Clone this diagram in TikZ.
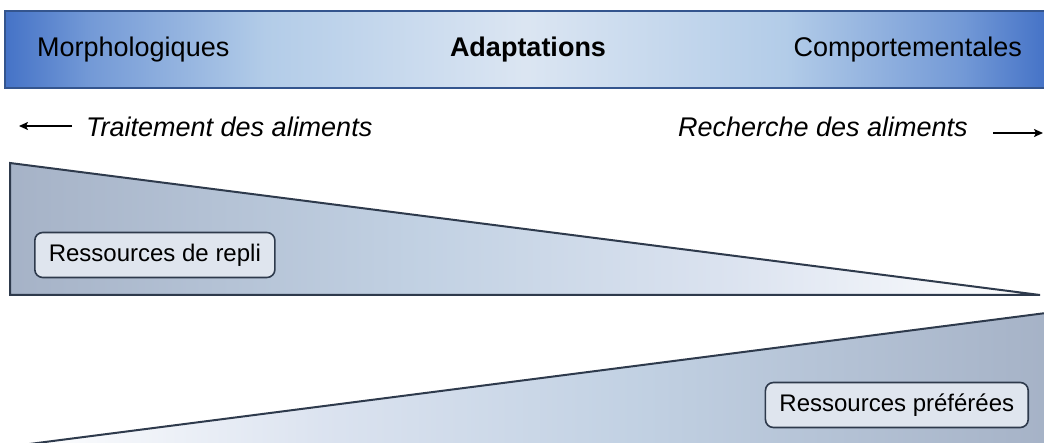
\documentclass[tikz,border=0pt]{standalone}
\usepackage{fontspec}
\setmainfont{Liberation Sans}
\usetikzlibrary{arrows.meta}
\definecolor{bannerline}{HTML}{34558E}
\definecolor{triline}{HTML}{2E3A4C}
\definecolor{boxfill}{HTML}{DFE5EE}
\pgfdeclarehorizontalshading{bannershade}{100bp}{
  rgb(0bp)=(0.27,0.45,0.78);
  rgb(25bp)=(0.27,0.45,0.78);
  rgb(29bp)=(0.45,0.60,0.84);
  rgb(37.5bp)=(0.70,0.80,0.91);
  rgb(50bp)=(0.86,0.90,0.95);
  rgb(62.5bp)=(0.70,0.80,0.91);
  rgb(71bp)=(0.45,0.60,0.84);
  rgb(75bp)=(0.27,0.45,0.78);
  rgb(100bp)=(0.27,0.45,0.78)}
\pgfdeclarehorizontalshading{upshade}{100bp}{
  rgb(0bp)=(0.65,0.70,0.78);
  rgb(25bp)=(0.65,0.70,0.78);
  rgb(45bp)=(0.76,0.82,0.89);
  rgb(60bp)=(0.86,0.89,0.94);
  rgb(75bp)=(1,1,1);
  rgb(100bp)=(1,1,1)}
\pgfdeclarehorizontalshading{downshade}{100bp}{
  rgb(0bp)=(1,1,1);
  rgb(25bp)=(1,1,1);
  rgb(40bp)=(0.86,0.89,0.94);
  rgb(55bp)=(0.76,0.82,0.89);
  rgb(75bp)=(0.65,0.70,0.78);
  rgb(100bp)=(0.65,0.70,0.78)}
\tikzset{
  header/.style={font=\fontsize{27}{32}\selectfont, inner sep=0pt},
  dirtext/.style={font=\fontsize{27}{32}\selectfont\itshape, inner sep=0pt},
  reslabel/.style={draw=triline, line width=1.6pt, fill=boxfill, rounded corners=8pt,
    font=\fontsize{24}{28}\selectfont, minimum height=45pt, inner xsep=14pt},
  tri/.style={draw=triline, line width=2pt},
  dirarrow/.style={-{Stealth[length=9pt,width=8pt,inset=2pt]}, line width=1.8pt},
}
\begin{document}
\begin{tikzpicture}[x=1pt,y=-1pt]
\useasboundingbox (0,0) rectangle (1044,443);
\begin{scope}
\clip (0,0) rectangle (1044,443);
% banner
\shade[shading=bannershade] (5,11) rectangle (1046,88);
\draw[bannerline, line width=2pt] (1046,11) -- (5,11) -- (5,88) -- (1046,88);
% upper triangle
\shade[shading=upshade] (10,163) -- (1040,295) -- (10,295) -- cycle;
\draw[tri] (10,163) -- (1040,295) -- (10,295) -- cycle;
% lower triangle
\shade[shading=downshade] (14,446) -- (1046,313) -- (1046,446) -- (14,446) -- cycle;
\draw[tri] (14,446) -- (1046,313);
\end{scope}
% header texts
\node[header, anchor=west] (morph) at (37,50) {Morphologiques};
\node[header, font=\fontsize{27}{32}\selectfont\bfseries] (adapt) at (528,50) {Adaptations};
\node[header, anchor=east] (comp) at (1022,50) {Comportementales};
% direction texts
\node[dirtext, anchor=west] (trait) at (86,127) {Traitement des aliments};
\node[dirtext, anchor=east] (rech) at (968,127) {Recherche des aliments};
\coordinate (la1) at (72,126);
\coordinate (la2) at (19,126);
\coordinate (ra1) at (993,133);
\coordinate (ra2) at (1043,133);
\draw[dirarrow] (la1) -- (la2);
\draw[dirarrow] (ra1) -- (ra2);
% labels
\node[reslabel, anchor=west] (repli) at (34,255) {Ressources de repli};
\node[reslabel, anchor=east] (pref) at (1029,405) {Ressources préférées};
\end{tikzpicture}
\end{document}
